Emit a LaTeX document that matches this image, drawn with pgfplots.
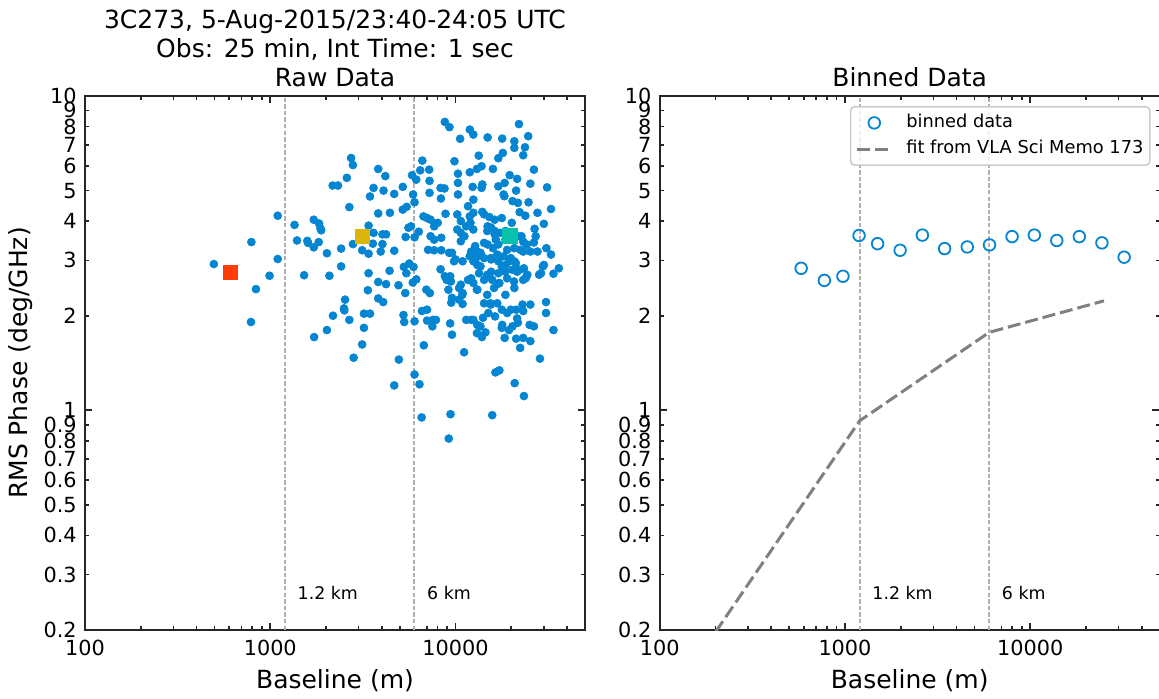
\documentclass[border=0pt]{standalone}
\usepackage{fontspec}
\setmainfont{DejaVu Sans}
\usepackage{pgfplots}
\pgfplotsset{compat=1.18}
\pgfplotsset{legend image code/.code={\draw[mark repeat=2,mark phase=2,#1] plot coordinates {(0pt,0pt) (8.85pt,0pt) (17.7pt,0pt)};}}
\definecolor{dotblue}{HTML}{0485D1}
\definecolor{sqred}{HTML}{FD3C06}
\definecolor{sqgold}{HTML}{DBB40C}
\definecolor{sqteal}{HTML}{06C2AC}
\definecolor{vline}{HTML}{B0B0B0}
\definecolor{fitgray}{HTML}{808080}

\pgfplotstableread{
x y
496 2.92
791 3.43
837 2.43
787 1.91
991 2.68
1097 3.03
1097 4.16
1352 3.89
1395 3.47
1585 3.46
1599 3.41
1717 4.04
1717 3.30
1834 3.93
1867 3.79
1883 3.74
1826 3.43
2022 3.16
1523 2.69
1725 1.71
2022 1.80
2086 2.68
2180 2.00
2413 3.27
2413 2.87
2534 2.25
2500 2.11
2511 2.08
2672 1.94
2672 4.43
2591 5.49
2732 6.35
2794 6.03
2171 5.19
2319 5.19
2794 3.38
2819 1.47
3134 1.62
3204 1.83
3204 2.03
3455 2.03
3134 3.23
3394 3.15
3394 3.87
3611 3.67
3579 3.39
3394 2.73
3364 2.41
3825 5.86
4179 5.56
3611 5.10
3455 4.79
3825 4.23
4087 5.00
4426 4.25
4668 4.88
5191 5.14
4033 3.63
4216 3.63
4033 3.38
3945 3.20
4668 3.22
4406 2.78
3825 2.56
4216 2.52
3825 2.27
4069 2.21
4922 2.50
5354 2.36
5237 2.01
5284 1.91
6009 1.92
4944 1.45
5191 4.35
5450 4.44
5572 3.81
5749 3.85
5378 3.56
6009 3.55
5904 4.86
6009 4.59
5826 5.60
6140 5.42
6620 6.23
6447 5.80
7207 5.83
7239 5.37
7239 4.92
5260 2.86
5426 2.73
5623 2.93
5930 2.86
5880 2.55
6140 2.61
6333 3.70
6714 4.14
7018 4.09
7335 4.04
7667 3.85
8014 3.95
7335 3.58
7667 3.49
8377 3.54
7112 3.24
7667 3.23
8377 3.23
8303 2.81
6744 1.61
6956 2.42
7271 2.36
7018 2.09
6591 2.07
7018 1.93
7566 1.94
7839 1.94
7499 1.85
8756 8.27
9275 7.96
9867 6.20
10590 7.31
10310 5.66
10310 5.29
10310 4.86
8303 5.10
8720 5.08
8340 4.72
8834 4.22
10220 4.20
10220 3.76
10680 3.67
10680 3.45
11170 3.58
11420 3.85
11940 4.14
11680 4.46
12480 4.25
12480 4.68
13340 6.46
11940 7.82
12480 7.54
14900 7.38
17860 7.32
20770 7.18
20770 6.84
22000 8.14
24670 7.45
23710 6.87
23190 6.48
18020 6.59
17020 6.34
15920 5.86
13820 5.98
13050 5.86
11940 5.72
13950 5.23
12370 5.14
13820 5.10
17020 5.16
18420 5.29
19600 5.60
21510 5.45
21230 5.00
18180 4.86
18340 4.80
20310 4.63
21710 4.57
24780 4.59
26490 5.83
25340 5.26
31200 5.12
32760 4.37
29990 3.92
27690 4.25
23810 4.16
22190 4.27
13950 4.28
14260 4.20
15230 4.12
16280 4.04
17780 4.09
20130 3.95
26720 3.78
27080 3.58
26490 3.42
24240 3.37
23190 3.20
25340 3.20
27690 3.20
30930 3.28
32760 3.13
29590 2.87
28940 2.73
33790 2.72
36110 2.83
24240 2.68
23190 2.60
20770 2.45
18590 2.33
17020 2.53
15230 2.67
14260 2.60
13640 2.87
13050 2.42
12480 2.54
11680 2.60
10450 2.45
10920 2.36
10450 2.25
9358 2.67
8952 2.60
9153 2.42
9566 2.28
9482 2.20
10920 2.18
11420 1.94
12480 1.94
13640 1.85
13050 1.76
13880 1.71
14510 1.77
14070 1.97
15030 2.04
16350 1.99
15440 2.19
17780 2.09
19000 2.04
21230 2.09
23190 2.07
22990 2.17
25340 2.17
30790 2.21
30790 2.04
33790 1.80
25110 1.87
26490 1.85
25340 1.66
23190 1.70
21230 1.69
18420 1.70
17780 1.83
19430 1.80
20310 1.85
21710 1.90
22330 1.58
28560 1.46
11120 1.53
9566 1.74
9358 1.89
8756 2.67
9566 3.17
10000 3.02
10920 2.98
11940 3.09
12480 2.98
14260 3.05
15570 3.02
17020 2.98
18180 3.09
19430 2.98
20770 2.98
17780 2.87
18590 2.76
20310 2.80
22190 2.80
15570 2.76
17020 2.73
14260 3.41
14900 3.37
15920 3.28
17020 3.37
18590 3.49
20130 3.67
21710 3.58
22690 3.58
23190 3.44
20770 3.28
19000 3.24
12760 3.33
13050 3.20
13640 3.17
16280 3.63
16420 1.32
17250 1.34
16280 3.72
17400 3.67
18590 3.72
14900 3.85
15570 3.81
12040 3.95
12480 3.76
10680 4.00
4668 1.20
6009 1.30
6390 1.21
6562 0.949
9398 0.972
9193 0.813
15780 0.965
20860 1.22
23400 1.11
14830 3.72
16500 3.49
9240 3.17
9820 2.98
12150 3.20
12880 3.05
13700 3.13
13110 2.90
15500 3.05
16800 3.13
18670 2.90
19880 3.05
21150 2.94
22400 3.24
29990 2.90
28260 2.70
24400 2.70
23400 2.83
21510 2.76
20690 2.57
19000 2.63
17250 2.54
15780 2.60
14830 2.70
13390 2.73
12150 2.63
10680 2.51
9440 2.57
10880 2.33
13110 2.42
14830 2.33
16140 2.45
23900 2.63
14260 2.19
15500 2.17
16800 2.19
19880 2.09
12150 1.94
13110 1.87
17860 1.87
21510 1.96
}\rawdata

\pgfplotstableread{
x y
580 2.83
774 2.59
975 2.67
1191 3.60
1500 3.39
1985 3.23
2617 3.61
3451 3.27
4571 3.31
6027 3.36
7980 3.57
10520 3.61
13910 3.47
18400 3.57
24380 3.41
32130 3.07
}\binned

\pgfplotstableread{
x y
200 0.197
1200 0.926
6000 1.77
25000 2.23
}\fitdata

\begin{document}
\begin{tikzpicture}
\begin{axis}[
    xmode=log, ymode=log,
    scale only axis, width=250pt, height=267pt,
    at={(42.5pt,34pt)}, anchor=south west,
    xmin=100, xmax=50000, ymin=0.2, ymax=10,
    axis line style={line width=0.83pt, black!85},
    tick align=inside, xtick pos=both, ytick pos=both,
    major tick length=3.65pt, minor tick length=2.1pt,
    tick style={black!85, line width=0.83pt},
    xtick={100,1000,10000}, xticklabels={100,1000,10000},
    minor xtick={200,300,400,500,600,700,800,900,2000,3000,4000,5000,6000,7000,8000,9000,20000,30000,40000},
    ytick={1,10}, yticklabels={1,10},
    extra y ticks={0.2,0.3,0.4,0.5,0.6,0.7,0.8,0.9,2,3,4,5,6,7,8,9},
    extra y tick labels={0.2,0.3,0.4,0.5,0.6,0.7,0.8,0.9,2,3,4,5,6,7,8,9},
    extra y tick style={major tick length=2.1pt},
    ticklabel style={font=\fontsize{10.4}{12}\selectfont},
    xticklabel style={anchor=base, yshift=-12.5pt, inner sep=0pt},
    yticklabel style={anchor=east, inner sep=0pt, xshift=-4pt},
  ]
  \addplot[vline, line width=1pt, dash pattern=on 2.2pt off 1.1pt, forget plot] coordinates {(1200,0.2) (1200,10)};
  \addplot[vline, line width=1pt, dash pattern=on 2.2pt off 1.1pt, forget plot] coordinates {(6000,0.2) (6000,10)};
  \addplot[dotblue, only marks, mark=*, mark size=2pt, line width=0.3pt] table[x=x, y=y] {\rawdata};
  \addplot[sqred, only marks, mark=square*, mark size=3.65pt, line width=0.2pt] coordinates {(607,2.75)};
  \addplot[sqgold, only marks, mark=square*, mark size=3.65pt, line width=0.2pt] coordinates {(3133,3.58)};
  \addplot[sqteal, only marks, mark=square*, mark size=3.65pt, line width=0.2pt] coordinates {(19590,3.60)};
  \node[anchor=base west, inner sep=0pt, font=\fontsize{8.7}{10}\selectfont] at (axis cs:1400,0.25) {1.2 km};
  \node[anchor=base west, inner sep=0pt, font=\fontsize{8.7}{10}\selectfont] at (axis cs:7000,0.25) {6 km};
\end{axis}

\begin{axis}[
    xmode=log, ymode=log,
    scale only axis, width=250pt, height=267pt,
    at={(329.85pt,34pt)}, anchor=south west,
    xmin=100, xmax=50000, ymin=0.2, ymax=10,
    axis line style={line width=0.83pt, black!85},
    tick align=inside, xtick pos=both, ytick pos=both,
    major tick length=3.65pt, minor tick length=2.1pt,
    tick style={black!85, line width=0.83pt},
    xtick={100,1000,10000}, xticklabels={100,1000,10000},
    minor xtick={200,300,400,500,600,700,800,900,2000,3000,4000,5000,6000,7000,8000,9000,20000,30000,40000},
    ytick={1,10}, yticklabels={1,10},
    extra y ticks={0.2,0.3,0.4,0.5,0.6,0.7,0.8,0.9,2,3,4,5,6,7,8,9},
    extra y tick labels={0.2,0.3,0.4,0.5,0.6,0.7,0.8,0.9,2,3,4,5,6,7,8,9},
    extra y tick style={major tick length=2.1pt},
    ticklabel style={font=\fontsize{10.4}{12}\selectfont},
    xticklabel style={anchor=base, yshift=-12.5pt, inner sep=0pt},
    yticklabel style={anchor=east, inner sep=0pt, xshift=-4pt},
    legend style={at={(0.9818,0.9813)}, anchor=north east, draw=black!20, line width=0.8pt,
      rounded corners=2pt, fill=white, fill opacity=0.8, text opacity=1,
      font=\fontsize{8.9}{10}\selectfont, inner xsep=2.2pt, inner ysep=2.8pt,
      row sep=2.6pt, column sep=5.4pt,
      nodes={inner sep=1pt, text height=6.6pt, text depth=1.9pt}},
    legend cell align=left,
  ]
  \addplot[vline, line width=1pt, dash pattern=on 2.2pt off 1.1pt, forget plot] coordinates {(1200,0.2) (1200,10)};
  \addplot[vline, line width=1pt, dash pattern=on 2.2pt off 1.1pt, forget plot] coordinates {(6000,0.2) (6000,10)};
  \addplot[dotblue, only marks, mark=o, mark size=2.9pt, mark options={draw=dotblue, line width=0.9pt}]
    table[x=x, y=y] {\binned};
  \addlegendentry{binned data}
  \addplot[fitgray, line width=1.5pt, dash pattern=on 6.5pt off 2.5pt]
    table[x=x, y=y] {\fitdata};
  \addlegendentry{fit from VLA Sci Memo 173}
  \node[anchor=base west, inner sep=0pt, font=\fontsize{8.7}{10}\selectfont] at (axis cs:1400,0.25) {1.2 km};
  \node[anchor=base west, inner sep=0pt, font=\fontsize{8.7}{10}\selectfont] at (axis cs:7000,0.25) {6 km};
\end{axis}

\begin{scope}[every node/.style={inner sep=0pt, font=\fontsize{12.5}{15}\selectfont}]
  \node[anchor=base] at (167.5pt,334.5pt) {3C273, 5-Aug-2015/23:40-24:05 UTC};
  \node[anchor=base] at (167.5pt,320pt) {Obs: 25 min, Int Time: 1 sec};
  \node[anchor=base] at (167.5pt,305.5pt) {Raw Data};
  \node[anchor=base] at (454.85pt,305.5pt) {Binned Data};
  \node[anchor=base] at (167.5pt,5pt) {Baseline (m)};
  \node[anchor=base] at (454.85pt,5pt) {Baseline (m)};
  \node[rotate=90, anchor=center] at (10.5pt,167.5pt) {RMS Phase (deg/GHz)};
\end{scope}

\pgfresetboundingbox
\path[use as bounding box] (0,0) rectangle (579.5pt,349pt);
\end{tikzpicture}
\end{document}
